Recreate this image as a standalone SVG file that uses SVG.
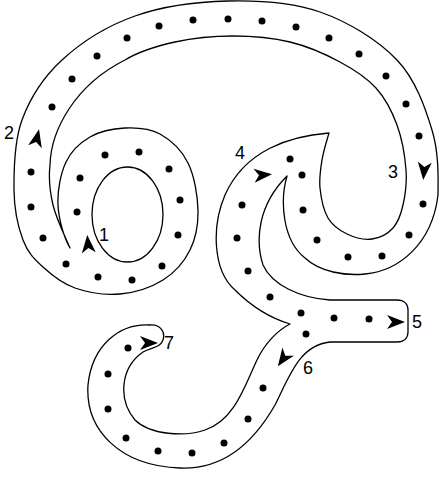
<svg xmlns="http://www.w3.org/2000/svg" width="441" height="479" viewBox="0 0 441 479">
<style>
.wall{fill:#fff;stroke:#000;stroke-width:1.3;stroke-linejoin:round}
.dot{fill:#000}
.lbl{font-family:"Liberation Sans",Arial,sans-serif;font-size:18px;fill:#000;text-anchor:middle}
</style>
<defs>
<path id="ah" d="M9,0 L-9,-7 L-4,0 L-9,7 Z" fill="#000"/>
</defs>
<rect width="441" height="479" fill="#fff"/>
<g id="tube">
<path class="wall" d="M70,248 C64,234 56.3,218.8 53,205 C49.7,191.2 48.5,178.3 50,165 C51,130 75,85 125,60 C140.8,50.3 157,46 175,42 C193,38 213.8,36 233,36 C252.2,36 272.2,37.7 290,42 C307.8,46.3 325.7,54.3 340,62 C354.3,69.7 366.5,77.5 376,88 C385.5,98.5 392,111.3 397,125 C402,138.7 405,156.7 406,170 C407,183.3 405.2,195.3 403,205 C400.8,214.7 398.2,222.3 393,228 C387.8,233.7 379.7,238 372,239 C364.3,240 354.3,237.5 347,234 C339.7,230.5 332.5,225.7 328,218 C323.5,210.3 321,197.7 320,188 C319,178.3 320.5,169.2 322,160 C323.5,150.8 327,140 329,133 C290,136 245,150 225,195 C212,225 212,270 235,290 C252,307 270,318 290,324 C278,330 265,343 257,360 C245,385 235,420 205,430 C185,437 150,435 135,420 C118,400 120,368 143,352 C152,347 160,348 163,340 C166,330 158,324 150,325 C120,323 92,345 88,385 C85,430 120,466 180,468 C225,470 255,440 275,405 C290,375 300,345 330,342 L397,342 C404,342 408,338 408,332 L408,310 C408,304 404,300 397,300 L330,300 C300,298 272,285 263,265 C255,240 258,205 287,176 C280,200 282,240 305,258 C320,272 345,276 365,274 C398,271 432,245 438,195 C438.3,176.7 438.8,152.5 432,130 C425.2,107.5 415.7,79.7 397,60 C378.3,40.3 348.2,21.8 320,12 C291.8,2.2 258.8,0.3 228,1 C197.2,1.7 162.7,6.2 135,16 C107.3,25.8 80.8,42.7 62,60 C43.2,77.3 30,98.3 22,120 C14,141.7 13.8,170 14,190 C14.2,210 18.2,227.2 23,240 C27.8,252.8 34.3,259 43,267 C51.7,275 62.2,283.5 75,288 C87.8,292.5 105.3,295.3 120,294 C134.7,292.7 151.3,287.3 163,280 C174.7,272.7 184.2,261.7 190,250 C195.8,238.3 198.3,224.5 198,210 C197.7,195.5 194.3,175.7 188,163 C181.7,150.3 170.5,139.8 160,134 C149.5,128.2 136.7,127.5 125,128 C113.3,128.5 99.8,131.3 90,137 C80.2,142.7 71.3,150.7 66,162 C60.7,173.3 57.3,190.7 58,205 C58.7,219.3 64,238 70,248 Z"/>
<ellipse class="wall" cx="127.5" cy="214.5" rx="35.5" ry="47.5"/>
</g>
<g id="dots" class="dot">
<circle cx="159" cy="26" r="3.5"/><circle cx="193" cy="20" r="3.5"/><circle cx="228" cy="19" r="3.5"/><circle cx="262" cy="21" r="3.5"/><circle cx="296" cy="27" r="3.5"/><circle cx="329" cy="38" r="3.5"/><circle cx="359" cy="54" r="3.5"/><circle cx="386" cy="76" r="3.5"/><circle cx="406" cy="104" r="3.5"/><circle cx="419" cy="136" r="3.5"/>
<circle cx="423" cy="204" r="3.5"/><circle cx="409" cy="235" r="3.5"/><circle cx="382" cy="256" r="3.5"/><circle cx="348" cy="257" r="3.5"/><circle cx="317" cy="240" r="3.5"/><circle cx="303" cy="210" r="3.5"/><circle cx="302" cy="175" r="3.5"/><circle cx="290" cy="159" r="3.5"/>
<circle cx="127" cy="38" r="3.5"/><circle cx="97" cy="56" r="3.5"/><circle cx="72" cy="79" r="3.5"/><circle cx="52" cy="107" r="3.5"/><circle cx="31" cy="172" r="3.5"/><circle cx="31" cy="207" r="3.5"/><circle cx="43" cy="238" r="3.5"/><circle cx="66" cy="264" r="3.5"/>
<circle cx="98" cy="277" r="3.5"/><circle cx="132" cy="280" r="3.5"/><circle cx="162" cy="266" r="3.5"/>
<circle cx="178" cy="235" r="3.5"/><circle cx="180" cy="200" r="3.5"/><circle cx="169" cy="169" r="3.5"/><circle cx="139" cy="152" r="3.5"/><circle cx="105" cy="155" r="3.5"/><circle cx="80" cy="178" r="3.5"/><circle cx="77" cy="212" r="3.5"/>
<circle cx="242" cy="205" r="3.5"/><circle cx="237" cy="238" r="3.5"/><circle cx="248" cy="271" r="3.5"/><circle cx="270" cy="297" r="3.5"/><circle cx="301" cy="313" r="3.5"/><circle cx="334" cy="318" r="3.5"/><circle cx="369" cy="319" r="3.5"/><circle cx="306" cy="334" r="3.5"/>
<circle cx="263" cy="388" r="3.5"/><circle cx="248" cy="419" r="3.5"/><circle cx="224" cy="443" r="3.5"/><circle cx="192" cy="453" r="3.5"/><circle cx="158" cy="451" r="3.5"/><circle cx="126" cy="438" r="3.5"/><circle cx="108" cy="409" r="3.5"/><circle cx="108" cy="374" r="3.5"/><circle cx="128" cy="348" r="3.5"/>
</g>
<g id="arrows">
<use href="#ah" transform="translate(88,244) rotate(-95)"/>
<use href="#ah" transform="translate(37,138) rotate(-77)"/>
<use href="#ah" transform="translate(424,171) rotate(95)"/>
<use href="#ah" transform="translate(263,175) rotate(-5)"/>
<use href="#ah" transform="translate(396,322)"/>
<use href="#ah" transform="translate(283,359) rotate(125)"/>
<use href="#ah" transform="translate(149,343)"/>
</g>
<g id="labels" class="lbl">
<text x="104" y="241">1</text>
<text x="9" y="139">2</text>
<text x="393" y="178">3</text>
<text x="240" y="159">4</text>
<text x="417" y="328">5</text>
<text x="308" y="374">6</text>
<text x="169" y="349">7</text>
</g>
</svg>
